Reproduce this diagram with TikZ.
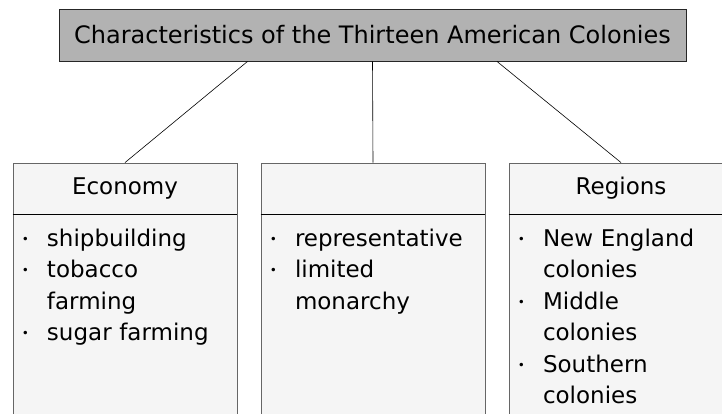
\documentclass[tikz,border=0pt]{standalone}
\usepackage{fontspec}
\setmainfont{DejaVu Sans}
\usetikzlibrary{positioning}

\definecolor{titlegray}{HTML}{B2B2B2}
\definecolor{boxfill}{HTML}{F5F5F5}
\definecolor{edgegray}{HTML}{666666}

\newcommand{\dotmark}{\raisebox{3pt}{\fontsize{12}{12}\selectfont\textbullet}}
\newenvironment{bulletlist}{%
  \begin{list}{\dotmark}{%
    \setlength{\leftmargin}{28pt}\setlength{\labelwidth}{10pt}%
    \setlength{\labelsep}{18pt}\setlength{\itemsep}{0pt}%
    \setlength{\parsep}{0pt}\setlength{\topsep}{0pt}\setlength{\partopsep}{0pt}}}%
  {\end{list}}

\tikzset{
  titlebox/.style={draw=black!85, fill=titlegray, line width=0.9pt,
    minimum width=627pt, minimum height=52pt, inner sep=0pt,
    font=\fontsize{24}{30}\selectfont},
  headbox/.style={draw=edgegray, fill=boxfill, line width=0.9pt,
    minimum width=224pt, minimum height=51pt, inner sep=0pt},
  bodybox/.style={draw=edgegray, fill=boxfill, line width=0.9pt,
    text width=212pt, inner xsep=6pt, inner ysep=0pt, text depth=200pt},
  link/.style={draw=black, line width=0.6pt}
}

\begin{document}
\begin{tikzpicture}[x=1pt, y=-1pt, font=\fontsize{23}{31.5}\selectfont]

  \useasboundingbox (0, 0) rectangle (722, 413);
  \clip (0, 0) rectangle (722, 413);

  % Title
  \node[titlebox] (title) at (372.5, 35) {Characteristics of the Thirteen American Colonies};

  % Economy column
  \node[headbox] (econhead) at (125, 188.5) {Economy};
  \node[bodybox, below=0pt of econhead] (econbody) {%
    \begin{bulletlist}
      \item shipbuilding
      \item tobacco\\farming
      \item sugar farming
    \end{bulletlist}};

  % Middle column
  \node[headbox] (midhead) at (373, 188.5) {};
  \node[bodybox, below=0pt of midhead] (midbody) {%
    \begin{bulletlist}
      \item representative
      \item limited\\monarchy
    \end{bulletlist}};

  % Regions column
  \node[headbox] (regionhead) at (621, 188.5) {Regions};
  \node[bodybox, below=0pt of regionhead] (regionbody) {%
    \begin{bulletlist}
      \item New England\\colonies
      \item Middle\\colonies
      \item Southern\\colonies
    \end{bulletlist}};

  \draw[link] (econbody.north west) -- (econbody.north east);
  \draw[link] (midbody.north west) -- (midbody.north east);
  \draw[link] (regionbody.north west) -- (regionbody.north east);

  % Links from the title
  \draw[link] ([xshift=-125pt]title.south) -- (econhead.north);
  \draw[link] (title.south) -- (midhead.north);
  \draw[link] ([xshift=124.5pt]title.south) -- (regionhead.north);
\end{tikzpicture}
\end{document}
